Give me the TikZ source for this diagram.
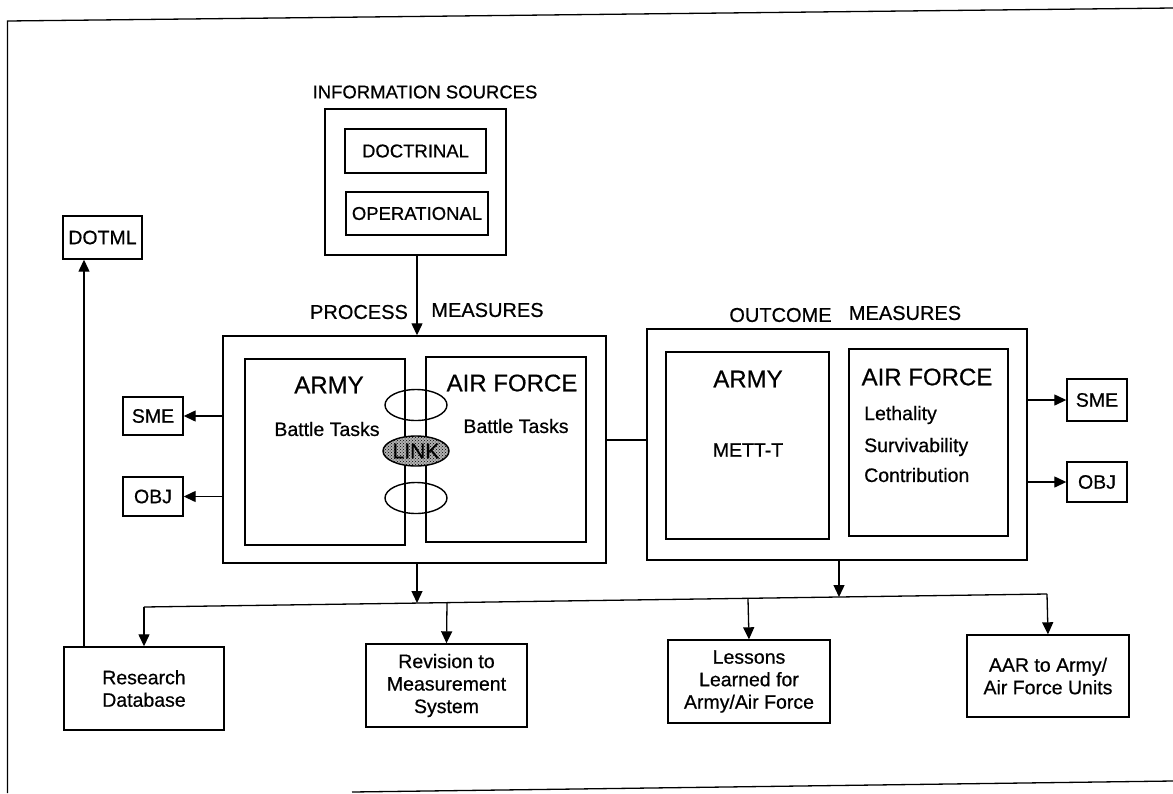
\documentclass[tikz,border=0pt]{standalone}
\usepackage{fontspec}
\setmainfont{Liberation Sans}[BoldFont=Liberation Sans, BoldFeatures={FakeBold=0.6}]
\usetikzlibrary{arrows.meta,patterns,shapes.geometric}
\begin{document}
\begin{tikzpicture}[x=1pt,y=-1pt]
\tikzset{
 bx/.style={draw, line width=1.4pt, inner sep=0pt, align=center},
 lbl/.style={inner sep=0pt, font=\fontsize{19.5}{22.5}\selectfont\bfseries, align=center},
 captxt/.style={inner sep=0pt, font=\fontsize{18.5}{21}\selectfont\bfseries},
 bigtxt/.style={inner sep=0pt, font=\fontsize{24}{28}\selectfont\bfseries},
 arr/.style={line width=1.3pt, -{Triangle[length=12pt,width=11pt]}},
 ln/.style={line width=1.3pt},
 ell/.style={draw, ellipse, line width=1.4pt, inner sep=0pt, minimum width=62pt, minimum height=31pt}
}
\useasboundingbox (0,0) rectangle (1173,793);
% scan frame
\draw[ln] (7.5,793) -- (7.5,21) -- (1173,8);
\draw[ln] (352,792) -- (1173,781);

% information sources
\node[captxt] (istitle) at (425,92) {INFORMATION SOURCES};
\node[bx, minimum width=181pt, minimum height=146pt] (info) at (415.5,182) {};
\node[bx, captxt, minimum width=141pt, minimum height=44pt] (doc) at (415.5,151) {DOCTRINAL};
\node[bx, captxt, minimum width=142pt, minimum height=43pt] (ope) at (417,213.5) {OPERATIONAL};

% process measures
\node[lbl, font=\fontsize{20}{23}\selectfont\bfseries] (proc) at (359,312) {PROCESS};
\node[lbl, font=\fontsize{20}{23}\selectfont\bfseries] (pmeas) at (487.5,310) {MEASURES};
\node[bx, minimum width=383pt, minimum height=227pt] (pm) at (414.5,449.5) {};
\node[bx, minimum width=160pt, minimum height=186pt] (pa) at (325,452) {};
\node[bx, minimum width=160pt, minimum height=185pt] (pf) at (506,449.5) {};
\node[bigtxt] (paT) at (329,385) {ARMY};
\node[lbl] (paB) at (327,429) {Battle Tasks};
\node[bigtxt] (pfT) at (512,383) {AIR FORCE};
\node[lbl] (pfB) at (516,426) {Battle Tasks};
\node[ell] (e1) at (416,405) {};
\node[ell, minimum height=30pt, preaction={fill=gray!60}, pattern=crosshatch dots, font=\fontsize{21}{24}\selectfont\bfseries] (link) at (416,451) {LINK};
\node[ell] (e3) at (416,498) {};

% outcome measures
\node[lbl, font=\fontsize{20}{23}\selectfont\bfseries] (outc) at (780.5,315) {OUTCOME};
\node[lbl, font=\fontsize{20}{23}\selectfont\bfseries] (omeas) at (905,313) {MEASURES};
\node[bx, minimum width=380pt, minimum height=231pt] (om) at (837,444.5) {};
\node[bx, minimum width=163pt, minimum height=187pt] (oa) at (747.5,445.5) {};
\node[bx, minimum width=159pt, minimum height=187pt] (of) at (928.5,442.5) {};
\node[bigtxt] (oaT) at (748,379) {ARMY};
\node[lbl] (oaB) at (748,450) {METT-T};
\node[bigtxt] (ofT) at (927,377) {AIR FORCE};
\node[lbl, anchor=west] (leth) at (864,415) {Lethality};
\node[lbl, anchor=west] (surv) at (864,447) {Survivability};
\node[lbl, anchor=west] (cont) at (864,475) {Contribution};

% side boxes
\node[bx, lbl, minimum width=60pt, minimum height=38pt] (smeL) at (153,416) {SME};
\node[bx, lbl, minimum width=60pt, minimum height=39pt] (objL) at (153,496.5) {OBJ};
\node[bx, lbl, minimum width=60pt, minimum height=42pt] (smeR) at (1097,400) {SME};
\node[bx, lbl, minimum width=60pt, minimum height=40pt] (objR) at (1097,482) {OBJ};
\node[bx, lbl, minimum width=79pt, minimum height=43pt] (dotml) at (102.5,237.5) {DOTML};

% bottom boxes
\node[bx, lbl, minimum width=160pt, minimum height=83pt] (rd) at (144,688.5) {Research\\Database};
\node[bx, lbl, minimum width=161pt, minimum height=83pt] (rev) at (446.5,685.5) {Revision to\\Measurement\\System};
\node[bx, lbl, minimum width=162pt, minimum height=83pt] (les) at (749,681.5) {Lessons\\Learned for\\Army/Air Force};
\node[bx, lbl, minimum width=162pt, minimum height=82pt] (aar) at (1048,676) {AAR to Army/\\Air Force Units};

% connectors
\draw[arr] (info.south -| ope.south) -- (ope.south |- pm.north);
\coordinate (cy) at (0,440);
\draw[ln] (pm.east |- cy) -- (om.west |- cy);
\draw[arr] (pm.west |- smeL) -- (smeL.east);
\draw[arr] (pm.west |- objL) -- (objL.east);
\draw[arr] (om.east |- smeR) -- (smeR.west);
\draw[arr] (om.east |- objR) -- (objR.west);

\coordinate (b1) at (144,607);
\coordinate (b2) at (447,603);
\coordinate (b3) at (748,599);
\coordinate (b4) at (1047,594);
\coordinate (pj) at (417,603);
\coordinate (oj) at (839,597);
\draw[ln] (b1) -- (b4);
\draw[arr] (pm.south -| pj) -- (pj);
\draw[arr] (om.south -| oj) -- (oj);
\draw[arr] (b1) -- (rd.north);
\draw[arr] (b2) -- (rev.north);
\draw[arr] (b3) -- (les.north);
\draw[arr] (b4) -- (aar.north);
\coordinate (dx) at (84,0);
\draw[arr] (rd.north -| dx) -- (dotml.south -| dx);
\end{tikzpicture}
\end{document}
